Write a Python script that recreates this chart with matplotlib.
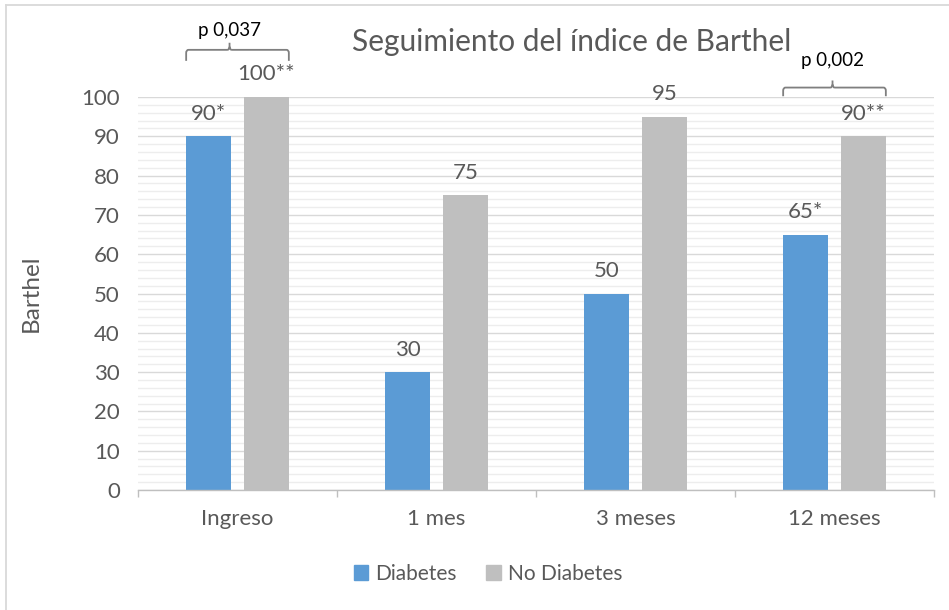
import matplotlib
matplotlib.use("Agg")
import matplotlib.pyplot as plt
from matplotlib.ticker import MultipleLocator, FixedLocator
from matplotlib.path import Path
from matplotlib.patches import PathPatch
from matplotlib.lines import Line2D
import numpy as np

plt.rcParams['font.family'] = ['Lato', 'DejaVu Sans']

categories = ["Ingreso", "1 mes", "3 meses", "12 meses"]
diabetes = [90, 30, 50, 65]
no_diabetes = [100, 75, 95, 90]
diabetes_labels = ["90*", "30", "50", "65*"]
no_diabetes_labels = ["100**", "75", "95", "90**"]
series_names = ["Diabetes", "No Diabetes"]
pvalue_texts = ["p 0,037", "p 0,002"]
pvalue_cats = [0, 3]

title = "Seguimiento del índice de Barthel"
ylabel = "Barthel"

C_BLUE = "#5B9BD5"
C_GRAY = "#BFBFBF"
TXT = "#595959"

fig = plt.figure(figsize=(9.49, 6.10), dpi=100)
W, H = 949, 610
ax = fig.add_axes([138 / W, 1 - 490 / H, 796 / W, 393 / H])

x = np.arange(len(categories))
bw = 0.226
off = 0.145
ax.bar(x - off, diabetes, bw, color=C_BLUE, zorder=3, label=series_names[0])
ax.bar(x + off, no_diabetes, bw, color=C_GRAY, zorder=3, label=series_names[1])

for xi, v, lab in zip(x - off, diabetes, diabetes_labels):
    ax.annotate(lab, (xi, v), xytext=(0, 9), textcoords="offset points",
                ha="center", va="bottom", fontsize=16, color=TXT)
for xi, v, lab in zip(x + off, no_diabetes, no_diabetes_labels):
    ax.annotate(lab, (xi, v), xytext=(0, 9), textcoords="offset points",
                ha="center", va="bottom", fontsize=16, color=TXT)

ax.set_xlim(-0.5, len(categories) - 0.5)
ax.set_ylim(0, 100)
ax.yaxis.set_major_locator(MultipleLocator(10))
ax.yaxis.set_minor_locator(MultipleLocator(2))
ax.set_xticks(x)
ax.set_xticklabels(categories)
ax.xaxis.set_minor_locator(FixedLocator(np.arange(-0.5, len(categories), 1.0)))

ax.grid(which="major", axis="y", color="#D9D9D9", linewidth=1.0, zorder=0)
ax.grid(which="minor", axis="y", color="#EDEDED", linewidth=1.0, zorder=0)
for s in ["top", "right", "left"]:
    ax.spines[s].set_visible(False)
ax.spines["bottom"].set_color(C_GRAY)
ax.spines["bottom"].set_linewidth(1.0)
ax.spines["bottom"].set_zorder(4)

ax.tick_params(axis="y", which="both", length=0, pad=13, labelsize=16, labelcolor=TXT)
ax.tick_params(axis="x", which="major", length=0, pad=14, labelsize=16, labelcolor=TXT)
ax.tick_params(axis="x", which="minor", length=5, width=1.0, color=C_GRAY, direction="out")

# significance brackets
def bracket(cat, y_end, y_h, y_tip, text, y_text, tip_dx):
    xl = cat - off - bw / 2
    xr = cat + off + bw / 2
    xc = cat + tip_dx
    rx, ry = 0.012, 0.8
    verts = [
        (xl, y_end), (xl, y_h - ry), (xl, y_h), (xl + rx, y_h),
        (xc - rx, y_h), (xc, y_h), (xc, y_h + ry), (xc, y_tip),
        (xc, y_h + ry), (xc, y_h), (xc + rx, y_h),
        (xr - rx, y_h), (xr, y_h), (xr, y_h - ry), (xr, y_end),
    ]
    codes = [Path.MOVETO, Path.LINETO, Path.CURVE3, Path.CURVE3,
             Path.LINETO, Path.CURVE3, Path.CURVE3, Path.LINETO,
             Path.MOVETO, Path.CURVE3, Path.CURVE3,
             Path.LINETO, Path.CURVE3, Path.CURVE3, Path.LINETO]
    p = PathPatch(Path(verts, codes), facecolor="none", edgecolor="#7F7F7F",
                  linewidth=1.3, clip_on=False, zorder=5)
    ax.add_patch(p)
    ax.text(xc, y_text, text, ha="center", va="center", fontsize=13.5,
            color="#000000", clip_on=False)

bracket(pvalue_cats[0], 109.2, 112.0, 113.8, pvalue_texts[0], 116.8, -0.04)
bracket(pvalue_cats[1], 100.2, 102.4, 104.2, pvalue_texts[1], 109.2, -0.01)

fig.text(572 / W, 1 - 42 / H, title, ha="center", va="center", fontsize=21.5, color=TXT)
fig.text(31 / W, 1 - 293 / H, ylabel, ha="center", va="center", rotation=90,
         fontsize=17.5, color=TXT)

handles = [plt.Rectangle((0, 0), 1, 1, color=C_BLUE), plt.Rectangle((0, 0), 1, 1, color=C_GRAY)]
fig.legend(handles, series_names, loc="center", bbox_to_anchor=(488 / W, 1 - 574 / H),
           ncol=2, frameon=False, fontsize=15, handlelength=0.7, handleheight=0.7,
           handletextpad=0.35, columnspacing=1.4, labelcolor=TXT)

# outer chart border (top and left visible)
fig.add_artist(Line2D([5.5 / W, 5.5 / W], [0, 1 - 4.5 / H], color="#D9D9D9", linewidth=1.3,
                      transform=fig.transFigure))
fig.add_artist(Line2D([5.5 / W, 1], [1 - 4.5 / H, 1 - 4.5 / H], color="#D9D9D9", linewidth=1.3,
                      transform=fig.transFigure))

fig.savefig("out.png", dpi=100)
